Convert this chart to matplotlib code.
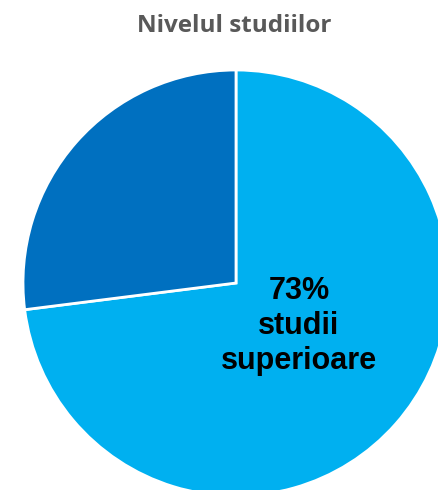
import matplotlib.pyplot as plt

# data
labels = ["studii superioare", "altele"]
shares = [73, 27]
colors = ["#00B0F0", "#0070C0"]
title = "Nivelul studiilor"

fig = plt.figure(figsize=(4.38, 4.90), dpi=100)
ax = fig.add_axes([0, 0, 1, 1])

# pie is bigger than the canvas, cut at right and bottom
ax.pie(shares, colors=colors, startangle=90, counterclock=False,
       center=(236, 207), radius=213, frame=True,
       wedgeprops=dict(edgecolor="white", linewidth=2))
ax.set_xlim(0, 438)
ax.set_ylim(0, 490)
ax.set_aspect("equal")
ax.axis("off")

ax.text(299, 164, "{}%\n{}\n{}".format(shares[0], *labels[0].split()),
        ha="center", va="center", fontsize=22, fontweight="bold",
        family="Liberation Sans", color="black", linespacing=1.2)

fig.text(0.534, 0.947, title, ha="center", va="center", fontsize=17.5,
         fontweight="bold", family="Open Sans", color="#595959")

fig.savefig("out.png", dpi=100)
